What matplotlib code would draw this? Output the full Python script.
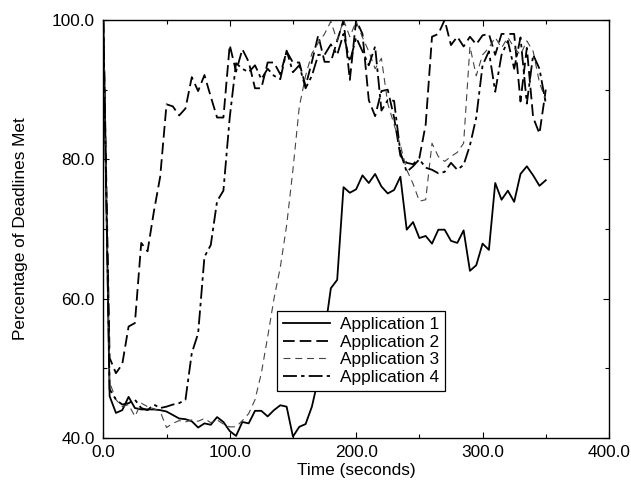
import matplotlib
matplotlib.use("Agg")
import matplotlib.pyplot as plt
import numpy as np

plt.rcParams['font.family'] = ['Liberation Sans', 'DejaVu Sans']
plt.rcParams['lines.scale_dashes'] = False

time_s = list(range(0, 355, 5))

app1 = [100, 46, 43.6, 44, 45.9, 44.3, 44.1, 44.1, 44.1, 44.0,
        43.8, 43.3, 42.8, 42.7, 42.4, 41.5, 42.1, 41.9, 43.0, 42.3,
        41.0, 40.3, 42.3, 42.1, 43.9, 43.9, 43.1, 44.0, 44.7, 44.5,
        40.2, 41.6, 42.0, 44.5, 48.5, 55.0, 61.5, 62.7, 76.0, 75.2,
        75.7, 77.7, 76.6, 77.9, 76.1, 75.1, 75.6, 77.5, 69.9, 71.0,
        68.7, 69.0, 67.9, 69.9, 69.9, 68.3, 68.0, 69.8, 64.0, 64.8,
        67.9, 67.0, 76.6, 74.2, 75.5, 73.9, 77.9, 79.0, 77.7, 76.2,
        77.0]

app2 = [100, 51.5, 49.3, 50.6, 56.0, 56.5, 68.0, 66.8, 72.5, 77.5,
        87.9, 87.6, 86.3, 87.3, 91.8, 89.8, 92.1, 89.0, 86.0, 86.0,
        96.4, 92.6, 95.8, 94.0, 90.2, 90.2, 93.9, 93.9, 92.2, 95.5,
        93.9, 93.9, 90.5, 94.0, 97.8, 94.0, 94.0, 97.0, 100.0, 91.4,
        100.0, 98.0, 88.5, 86.2, 89.8, 90.0, 86.0, 80.5, 79.5, 79.3,
        80.2, 85.0, 97.6, 98.0, 100.0, 96.4, 97.6, 96.2, 97.6, 96.5,
        97.8, 98.0, 95.0, 98.0, 98.0, 98.0, 88.3, 96.0, 86.0, 83.7,
        90.0]

app3 = [100, 48.0, 45.5, 44.5, 44.8, 43.1, 45.0, 44.5, 44.2, 43.8,
        41.5, 42.1, 42.5, 42.3, 42.6, 42.4, 42.8, 42.2, 42.6, 42.0,
        41.6, 41.6, 42.5, 43.5, 45.5, 49.3, 54.5, 60.0, 64.5, 70.5,
        78.5, 87.5, 92.0, 95.2, 96.7, 98.0, 99.8, 97.0, 100.0, 97.6,
        99.8, 97.5, 95.5, 93.0, 94.5, 88.0, 85.0, 82.0, 78.5, 76.5,
        74.0, 74.2, 82.3, 80.4, 79.7, 80.4, 81.0, 82.3, 96.2, 92.0,
        95.0, 96.0, 97.5, 96.0, 97.5, 96.0, 95.0, 97.0, 95.5, 91.0,
        88.5]

app4 = [100, 47.0, 45.5, 44.8, 45.0, 45.5, 44.3, 44.0, 44.8, 44.3,
        44.5, 44.8, 45.0, 45.5, 52.2, 55.0, 66.0, 67.7, 74.0, 75.5,
        86.0, 93.8, 93.0, 92.5, 93.5, 91.5, 93.0, 92.0, 91.5, 95.6,
        92.5, 93.5, 90.2, 92.0, 95.0, 95.0, 96.5, 95.0, 98.0, 94.0,
        97.5, 95.5, 93.5, 96.2, 87.0, 88.5, 88.4, 81.0, 78.2, 79.0,
        80.0, 78.8, 78.5, 78.0, 78.2, 79.5, 78.5, 79.2, 82.0, 86.0,
        93.5, 95.5, 89.7, 95.0, 97.0, 93.0, 97.5, 88.0, 95.0, 93.0,
        88.0]

labels = ["Application 1", "Application 2", "Application 3", "Application 4"]

fig = plt.figure(figsize=(6.31, 4.87), dpi=100)
ax = fig.add_axes([103.3 / 631, 49 / 487, 505.7 / 631, 418 / 487])

ax.plot(time_s, app1, color='black', lw=1.3, ls='-', label=labels[0])
ax.plot(time_s, app2, color='black', lw=1.3, dashes=(8.4, 3.6), label=labels[1])
ax.plot(time_s, app3, color='#444444', lw=0.8, dashes=(5, 3.5), label=labels[2])
ax.plot(time_s, app4, color='black', lw=1.3, dashes=(10, 3, 2.5, 3), label=labels[3])

ax.set_xlim(0, 400)
ax.set_ylim(40, 100)
ax.set_xticks([0, 100, 200, 300, 400])
ax.set_xticks([50, 150, 250, 350], minor=True)
ax.set_yticks([40, 60, 80, 100])
ax.set_yticks([50, 70, 90], minor=True)
ax.xaxis.set_major_formatter(matplotlib.ticker.FormatStrFormatter('%.1f'))
ax.yaxis.set_major_formatter(matplotlib.ticker.FormatStrFormatter('%.1f'))
ax.tick_params(which='both', direction='in', top=True, right=True, labelsize=12.4, colors='black')
ax.tick_params(which='major', length=4, width=0.8)
ax.tick_params(which='minor', length=3, width=0.8)
ax.tick_params(axis='y', pad=6)
ax.tick_params(axis='x', pad=5)
for sp in ax.spines.values():
    sp.set_linewidth(1.0)
    sp.set_color('black')

ax.set_xlabel("Time (seconds)", fontsize=12.4, labelpad=2)
ax.set_ylabel("Percentage of Deadlines Met", fontsize=12.4, labelpad=17)

leg = ax.legend(loc='upper left', bbox_to_anchor=(0.3435, 0.304), borderaxespad=0,
                fontsize=12.4, frameon=True, fancybox=False, framealpha=1,
                edgecolor='black', handlelength=2.7, handletextpad=0.6,
                labelspacing=0.15, borderpad=0.35)
leg.get_frame().set_linewidth(0.9)

fig.savefig("out.png", dpi=100)
